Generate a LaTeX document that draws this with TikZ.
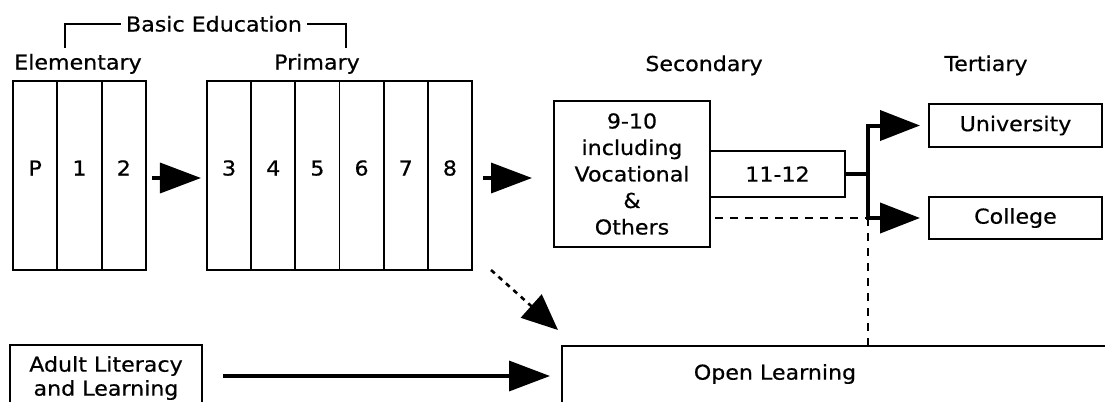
\documentclass[tikz,border=0pt]{standalone}
\usepackage{fontspec}
\newfontfamily\gfont[FakeStretch=1.08,FakeBold=0.6]{DejaVu Sans}
\usetikzlibrary{arrows.meta,positioning,calc}
\begin{document}
\begin{tikzpicture}[x=1bp,y=-1bp,
  font=\gfont\fontsize{20.5bp}{24bp}\selectfont,
  box/.style={draw, line width=1.8bp, inner sep=0pt},
  cell/.style={box, outer sep=0pt, minimum height=189bp, text height=14bp, text depth=14bp},
  ecell/.style={cell, minimum width=44.33bp},
  pcell/.style={cell, minimum width=44.17bp},
  lbl/.style={inner sep=0pt, anchor=base},
  heavy/.style={line width=3.5bp, -{Triangle[length=41bp,width=30bp]}},
  conn/.style={line width=4bp, -{Triangle[length=40bp,width=30bp]}, shorten >=9bp},
  dsh/.style={line width=1.6bp, dash pattern=on 8bp off 7bp},
  brk/.style={line width=1.8bp}]
\useasboundingbox (0,0) rectangle (1105,401);
\clip (0,0) rectangle (1105,401);
% headings
\node[lbl] (basic) at (214,31.5) {Basic Education};
\node[lbl] (elemlbl) at (78,69.5) {Elementary};
\node[lbl] (primlbl) at (317,69.5) {Primary};
\node[lbl] (seclbl) at (704,71) {Secondary};
\node[lbl] (terlbl) at (986,71) {Tertiary};
\coordinate (bl) at (65,48);
\coordinate (br) at (346,48);
\draw[brk] ([xshift=-5bp]basic.west) -| (bl);
\draw[brk] ([xshift=5bp]basic.east) -| (br);
% elementary cells
\node[ecell] (cP) at (35.17,175.5) {P};
\node[ecell, right=0pt of cP] (c1) {1};
\node[ecell, right=0pt of c1] (c2) {2};
% primary cells
\node[pcell] (c3) at (229.08,175.5) {3};
\node[pcell, right=0pt of c3] (c4) {4};
\node[pcell, right=0pt of c4] (c5) {5};
\node[pcell, right=0pt of c5] (c6) {6};
\node[pcell, right=0pt of c6] (c7) {7};
\node[pcell, right=0pt of c7] (c8) {8};
% secondary
\node[box, outer sep=0pt, minimum width=156bp, minimum height=146bp, align=center,
  font=\gfont\fontsize{20.5bp}{26.5bp}\selectfont] (sec) at (632,174)
  {9-10\\including\\Vocational\\\&\\Others};
\node[box, outer sep=0pt, minimum width=135bp, minimum height=46bp] (t) at (777.5,174) {11-12};
% tertiary
\node[box, outer sep=0pt, minimum width=173bp, minimum height=43bp] (uni) at (1015.5,125.5) {University};
\node[box, outer sep=0pt, minimum width=173bp, minimum height=42bp] (col) at (1015.5,218) {College};
% open learning and adult literacy
\node[box, outer sep=0pt, anchor=north west, minimum width=600bp, minimum height=100bp] (open) at (562,346) {};
\node[inner sep=0pt] (opentxt) at (775,374) {Open Learning};
\node[box, outer sep=0pt, anchor=north west, minimum width=192bp, minimum height=80bp] (adult) at (10,345) {};
\node[inner sep=0pt, align=center, font=\gfont\fontsize{20.5bp}{24bp}\selectfont] (adulttxt) at (106,378) {Adult Literacy\\and Learning};
% connectors
\draw[heavy, shorten <=6bp, shorten >=6bp] ([yshift=-2.5bp]c2.east) -- ([yshift=-2.5bp]c3.west);
\draw[heavy, shorten <=11bp, shorten >=22bp] ([yshift=-2.5bp]c8.east) -- ([yshift=-2.5bp]c8.east -| sec.west);
\draw[line width=4bp] (t.east) -- ++(23,0) coordinate (j);
\draw[conn] (j) |- (uni.west);
\draw[conn] (j) |- (col.west);
\draw[dsh] ([xshift=5bp]sec.east |- col.west) -- (j |- col.west);
\draw[dsh] (j |- col.west) -- (j |- open.north);
\draw[line width=2.6bp, dash pattern=on 5bp off 5bp, -{Triangle[length=36bp,width=31bp]}]
  ($(c8.south east)+(19,0)$) -- ($(open.north west)+(-4,-16)$);
\coordinate (ya) at (0,376);
\draw[heavy, shorten <=21bp, shorten >=12bp] (adult.east |- ya) -- (open.west |- ya);
\end{tikzpicture}
\end{document}
